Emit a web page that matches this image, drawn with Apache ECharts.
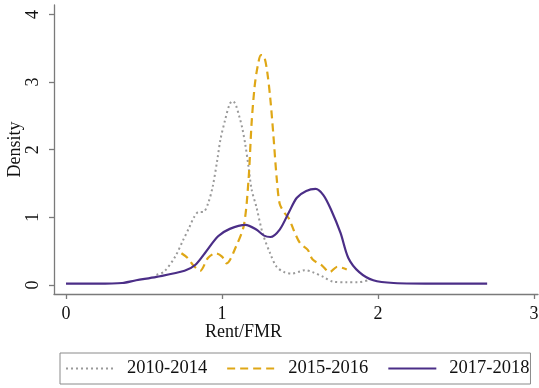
<!DOCTYPE html>
<html>
<head>
<meta charset="utf-8">
<script src="https://cdn.jsdelivr.net/npm/echarts@6/dist/echarts.min.js"></script>
<style>
  html, body { margin: 0; padding: 0; background: #fff; }
  #chart { width: 539px; height: 388px; }
</style>
</head>
<body>
<div id="chart"></div>
<script>
// Kernel density of Rent/FMR by period
var seriesNames = ['2010-2014', '2015-2016', '2017-2018'];

var x2010 = [0.58, 0.63, 0.70, 0.75, 0.79, 0.82, 0.85, 0.88, 0.91, 0.94, 0.97, 0.99, 1.02, 1.05, 1.07, 1.09, 1.11, 1.13, 1.15, 1.17, 1.19, 1.22, 1.26, 1.31, 1.35, 1.40, 1.45, 1.50, 1.53, 1.58, 1.65, 1.71, 1.80, 1.87, 1.95];
var y2010 = [0.15, 0.20, 0.42, 0.66, 0.85, 1.00, 1.08, 1.08, 1.20, 1.45, 1.85, 2.15, 2.44, 2.68, 2.72, 2.65, 2.50, 2.32, 2.07, 1.75, 1.41, 1.16, 0.77, 0.46, 0.27, 0.19, 0.17, 0.20, 0.22, 0.19, 0.12, 0.05, 0.04, 0.04, 0.08];

var x2015 = [0.74, 0.78, 0.82, 0.86, 0.91, 0.96, 1.00, 1.03, 1.09, 1.14, 1.17, 1.19, 1.21, 1.23, 1.25, 1.27, 1.29, 1.31, 1.33, 1.35, 1.37, 1.40, 1.43, 1.46, 1.50, 1.55, 1.58, 1.64, 1.69, 1.74, 1.80];
var y2015 = [0.47, 0.40, 0.28, 0.21, 0.40, 0.47, 0.42, 0.32, 0.57, 0.88, 1.55, 2.40, 2.95, 3.25, 3.40, 3.38, 3.15, 2.75, 2.20, 1.60, 1.20, 1.07, 0.98, 0.81, 0.62, 0.52, 0.38, 0.29, 0.19, 0.27, 0.23];

var x2017 = [0.00, 0.20, 0.36, 0.45, 0.58, 0.76, 0.83, 0.89, 0.975, 1.05, 1.15, 1.22, 1.27, 1.31, 1.37, 1.43, 1.48, 1.54, 1.60, 1.65, 1.70, 1.76, 1.81, 1.88, 1.97, 2.10, 2.40, 2.70];
var y2017 = [0.02, 0.02, 0.03, 0.07, 0.12, 0.21, 0.30, 0.47, 0.72, 0.83, 0.89, 0.82, 0.73, 0.71, 0.82, 1.08, 1.29, 1.39, 1.42, 1.33, 1.11, 0.77, 0.40, 0.19, 0.07, 0.03, 0.02, 0.02];

var xTicks = [0, 1, 2, 3];
var yTicks = [0, 1, 2, 3, 4];

function pairs(xs, ys) {
  return xs.map(function (x, i) { return [x, ys[i]]; });
}

var axisGray = '#7a7a7a';
var serif = '"Liberation Serif", "DejaVu Serif", serif';

var chart = echarts.init(document.getElementById('chart'), null, { renderer: 'canvas' });
chart.setOption({
  backgroundColor: '#ffffff',
  animation: false,
  title: {
    text: 'Rent/FMR',
    left: 205,
    top: 323,
    padding: 0,
    textStyle: { fontFamily: serif, fontSize: 18, fontWeight: 'normal', color: '#111' }
  },
  grid: { left: 54, right: 1, top: 5, bottom: 94, containLabel: false, outerBoundsMode: 'none' },
  xAxis: {
    type: 'value',
    min: -0.077,
    max: 3.026,
    axisLine: { show: true, onZero: false, lineStyle: { color: axisGray, width: 1.3 } },
    axisTick: { show: true, length: 5, customValues: xTicks, lineStyle: { color: axisGray, width: 1.3 } },
    axisLabel: { customValues: xTicks, margin: 11, fontFamily: serif, fontSize: 18, color: '#111' },
    splitLine: { show: false }
  },
  yAxis: {
    type: 'value',
    min: -0.133,
    max: 4.14,
    name: 'Density',
    nameLocation: 'middle',
    nameGap: 30,
    nameMoveOverlap: false,
    nameTextStyle: { fontFamily: serif, fontSize: 18, color: '#111' },
    axisLine: { show: true, onZero: false, lineStyle: { color: axisGray, width: 1.3 } },
    axisTick: { show: true, length: 5, customValues: yTicks, lineStyle: { color: axisGray, width: 1.3 } },
    axisLabel: { customValues: yTicks, rotate: 90, margin: 12, fontFamily: serif, fontSize: 18, color: '#111' },
    splitLine: { show: false }
  },
  legend: {
    left: 60,
    top: 353,
    padding: [6, 1, 6, 5],
    itemGap: 19,
    itemWidth: 48,
    itemHeight: 10,
    borderColor: '#8a8a8a',
    borderWidth: 1,
    itemStyle: { opacity: 0 },
    textStyle: { fontFamily: serif, fontSize: 18.5, color: '#111', padding: [0, 0, 0, 8] },
    data: seriesNames
  },
  series: [
    {
      name: seriesNames[0],
      type: 'line',
      data: pairs(x2010, y2010),
      smooth: 0.3,
      symbol: 'none',
      lineStyle: { color: '#9a9a9a', width: 2, type: [2, 3] },
      itemStyle: { color: '#9a9a9a' }
    },
    {
      name: seriesNames[1],
      type: 'line',
      data: pairs(x2015, y2015),
      smooth: 0.3,
      symbol: 'none',
      lineStyle: { color: '#dfa716', width: 2.2, type: [8, 5] },
      itemStyle: { color: '#dfa716' }
    },
    {
      name: seriesNames[2],
      type: 'line',
      data: pairs(x2017, y2017),
      smooth: 0.3,
      symbol: 'none',
      lineStyle: { color: '#4b2e87', width: 2.2, type: 'solid' },
      itemStyle: { color: '#4b2e87' }
    }
  ]
});
</script>
</body>
</html>
